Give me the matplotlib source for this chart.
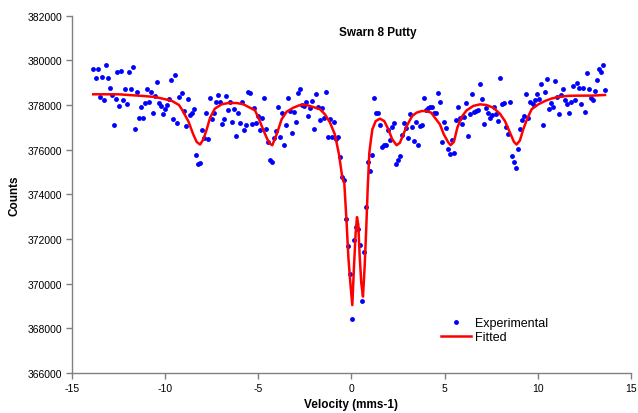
import matplotlib
matplotlib.use('Agg')
import matplotlib.pyplot as plt

# experimental points (velocity mm/s, counts)
vel_exp = [
    -13.86, -13.73, -13.62, -13.52, -13.41, -13.30, -13.19, -13.09, -12.98, -12.87,
    -12.76, -12.66, -12.58, -12.48, -12.37, -12.26, -12.16, -12.05, -11.94, -11.83,
    -11.73, -11.62, -11.51, -11.40, -11.30, -11.19, -11.08, -10.97, -10.87, -10.76,
    -10.65, -10.55, -10.44, -10.33, -10.22, -10.12, -10.01, -9.90, -9.79, -9.69,
    -9.58, -9.47, -9.36, -9.26,
    -9.11, -9.01, -8.90, -8.79, -8.68, -8.58, -8.47, -8.36, -8.26, -8.15,
    -8.04, -7.93, -7.83, -7.72, -7.61, -7.50, -7.40, -7.29, -7.18, -7.07,
    -6.97, -6.86, -6.75, -6.65, -6.54, -6.43, -6.32, -6.22, -6.11, -6.00,
    -5.89, -5.79, -5.68, -5.57, -5.46, -5.36, -5.25, -5.14, -5.04, -4.93,
    -4.82, -4.71, -4.61, -4.50, -4.39,
    -4.29, -4.18, -4.07, -3.96, -3.85, -3.75, -3.64, -3.53, -3.43, -3.32,
    -3.21, -3.10, -3.00, -2.89, -2.78, -2.67, -2.57, -2.46, -2.35, -2.24,
    -2.14, -2.03, -1.92, -1.82, -1.71, -1.60, -1.49, -1.39, -1.28, -1.17,
    -1.06, -0.96, -0.85, -0.74, -0.63, -0.53, -0.42,
    -0.28, -0.17, -0.06, 0.04, 0.15, 0.26, 0.36, 0.47, 0.58, 0.69,
    0.80, 0.90, 1.01, 1.12,
    1.23, 1.33, 1.44, 1.55, 1.66, 1.76, 1.87, 1.98, 2.08, 2.19,
    2.30, 2.41, 2.51, 2.62, 2.73, 2.84, 2.94, 3.05, 3.16, 3.26,
    3.37, 3.48, 3.59, 3.69, 3.80, 3.91, 4.02, 4.12, 4.23, 4.34,
    4.45, 4.55, 4.66, 4.77, 4.88, 4.98,
    5.07, 5.18, 5.29, 5.39, 5.50, 5.61, 5.72, 5.82, 5.93, 6.04,
    6.15, 6.25, 6.36, 6.47, 6.57, 6.68, 6.79, 6.90, 7.00, 7.11,
    7.22, 7.33, 7.43, 7.54, 7.65, 7.76, 7.86, 7.97, 8.08, 8.18,
    8.29, 8.40, 8.51, 8.61, 8.72, 8.83, 8.94, 9.04, 9.15, 9.26,
    9.37, 9.47, 9.58,
    9.74, 9.85, 9.96, 10.06, 10.17, 10.28, 10.39, 10.49, 10.60, 10.71,
    10.82, 10.92, 11.03, 11.14, 11.24, 11.35, 11.46, 11.57, 11.67, 11.78,
    11.89, 11.99, 12.10, 12.21, 12.32, 12.42, 12.53, 12.64, 12.75, 12.85,
    12.96, 13.07, 13.18, 13.28, 13.39, 13.50, 13.61,
]
counts_exp = [
    379600, 379200, 379600, 378360, 379260, 378230, 379770, 379200, 378750, 378450,
    377090, 378270, 379470, 377970, 379530, 378230, 378720, 378060, 379470, 378720,
    379720, 376910, 378570, 377430, 377930, 377430, 378110, 378720, 378150, 378570,
    377630, 378390, 379040, 378110, 377970, 377580, 377840, 378020, 378290, 379130,
    377370, 379340, 377210, 378360,
    378540, 377730, 377040, 378270, 377570, 377660, 377820, 375770, 375340, 375400,
    376860, 376530, 377630, 376470, 378320, 377370, 377630, 378140, 378440, 378140,
    377160, 377370, 378390, 377760, 378140, 377250, 377810, 376610, 377630, 377190,
    378140, 376860, 377120, 378570, 378530, 377160, 377880, 377190, 377490, 376860,
    377420, 378320, 376910, 376350, 375550,
    375460, 376530, 376820, 377900, 376580, 377630, 376200, 377090, 378320, 377720,
    376730, 377670, 377250, 378530, 378710, 378000, 377940, 378150, 377510, 377850,
    378180, 376910, 378480, 377900, 377330, 377870, 377430, 378570, 376580, 377390,
    376580, 377250, 376470, 376580, 375680, 374780, 374660,
    372890, 371670, 370440, 368400, 371970, 372560, 372440, 371730, 369210, 371430,
    373430, 375470, 375040, 375740,
    378320, 377640, 377640, 377120, 376100, 376220, 376190, 376860, 376440, 377000,
    377210, 375380, 375520, 375730, 376650, 377210, 376950, 376530, 377580, 377000,
    376400, 377250, 376190, 377070, 377120, 378320, 377790, 377850, 377900, 377930,
    377640, 377640, 378530, 378150, 376350, 377250,
    376950, 376010, 375820, 376440, 375850, 377340, 377900, 377430, 377160, 377460,
    378110, 376620, 377580, 378480, 377690, 377730, 377780, 378960, 378270, 377160,
    377850, 377640, 377430, 377550, 377930, 377580, 377300, 379220, 378030, 378110,
    377000, 376710, 378140, 375730, 375470, 375170, 376050, 376910, 377340, 377510,
    378480, 377430, 378150,
    378030, 378230, 378480, 378270, 378960, 377090, 378570, 379170, 377810, 378110,
    377930, 379080, 378360, 377580, 378440, 378710, 378230, 378060, 377630, 378150,
    378830, 378230, 378990, 378780, 378060, 378780, 377670, 379430, 378710, 378320,
    378230, 378620, 379130, 379600, 379470, 379770, 378660,
]

# fitted curve
vel_fit = [
    -13.86, -12.51, -11.26, -10.55, -10.01, -9.65, -9.26, -9.11, -8.76, -8.49,
    -8.31, -8.13, -7.95, -7.77, -7.59, -7.33, -6.97, -6.61, -6.16, -5.80,
    -5.45, -5.18, -4.96, -4.78, -4.55, -4.40, -4.25, -4.02, -3.75, -3.48,
    -3.12, -2.76, -2.41, -2.05, -1.69, -1.42, -1.15, -0.89, -0.67, -0.49,
    -0.385, -0.26, -0.17, -0.06, 0.045, 0.135, 0.224, 0.296, 0.367, 0.44,
    0.528, 0.618, 0.707, 0.797, 0.868, 0.958, 1.047, 1.12, 1.30, 1.53,
    1.76, 1.98, 2.19, 2.42, 2.60, 2.78, 3.01, 3.26, 3.50, 3.77,
    4.03, 4.27, 4.48, 4.75, 4.96, 5.18, 5.32, 5.50, 5.68, 5.91,
    6.18, 6.54, 6.90, 7.25, 7.61, 7.97, 8.24, 8.51, 8.72, 8.86,
    9.04, 9.22, 9.44, 9.67, 10.03, 10.39, 10.74, 11.10, 11.64, 12.17,
    12.89, 13.61,
]
counts_fit = [
    378480, 378480, 378410, 378360, 378260, 378190, 378000, 377810, 377280, 376680,
    376350, 376230, 376460, 376910, 377430, 377840, 378030, 378090, 378090, 378030,
    377880, 377760, 377360, 376980, 376530, 376280, 376200, 376680, 377360, 377700,
    377880, 378000, 378000, 377910, 377810, 377580, 377210, 376680, 375790, 374740,
    374510, 372710, 371220, 370020, 369040, 370770, 372270, 372980, 372640, 371220,
    370020, 369420, 370770, 372560, 374210, 375860, 376460, 376910, 377280, 377390,
    377280, 376910, 376460, 376200, 376310, 376680, 377130, 377510, 377660, 377730,
    377730, 377660, 377430, 377130, 376680, 376350, 376200, 376350, 376980, 377460,
    377760, 377960, 378030, 378000, 377880, 377610, 377280, 376760, 376350, 376230,
    376410, 376910, 377400, 377810, 378030, 378180, 378290, 378360, 378410, 378420,
    378420, 378450,
]

x_ticks = [-15, -10, -5, 0, 5, 10, 15]
y_ticks = [366000, 368000, 370000, 372000, 374000, 376000, 378000, 380000, 382000]

plt.rcParams['font.family'] = ['Liberation Sans', 'DejaVu Sans']

fig = plt.figure(figsize=(6.38, 4.14), dpi=100)
ax = fig.add_axes([0.1129, 0.0966, 0.876, 0.8631])

ax.plot(vel_exp, counts_exp, 'o', color='#0000ff', markersize=3.5,
        markeredgewidth=0, label='Experimental', zorder=2)
ax.plot(vel_fit, counts_fit, '-', color='#ff0000', linewidth=1.8,
        label='Fitted', zorder=3)

ax.set_xlim(-15, 15)
ax.set_ylim(366000, 382000)
ax.set_xticks(x_ticks)
ax.set_yticks(y_ticks)
ax.set_xticklabels([str(t) for t in x_ticks])
ax.set_yticklabels([str(t) for t in y_ticks])

for side in ['top', 'right']:
    ax.spines[side].set_visible(False)
for side in ['left', 'bottom']:
    ax.spines[side].set_color('#808080')
    ax.spines[side].set_linewidth(1.0)
ax.tick_params(direction='out', length=4, width=1.0, color='#808080',
               labelsize=7.5, pad=3)

ax.set_xlabel('Velocity (mms-1)', fontsize=8.5, fontweight='bold', labelpad=4)
ax.set_ylabel('Counts', fontsize=8.5, fontweight='bold', labelpad=5)
fig.text(0.592, 0.92, 'Swarn 8 Putty', fontsize=8.5, fontweight='bold',
         ha='center', va='center')

ax.legend(loc='upper left', bbox_to_anchor=(0.692, 0.231),
          bbox_transform=fig.transFigure, frameon=False, fontsize=9,
          numpoints=1, handlelength=2.4, handletextpad=0.25,
          borderpad=0, borderaxespad=0, labelspacing=0.15)

fig.savefig('out.png', dpi=100)
